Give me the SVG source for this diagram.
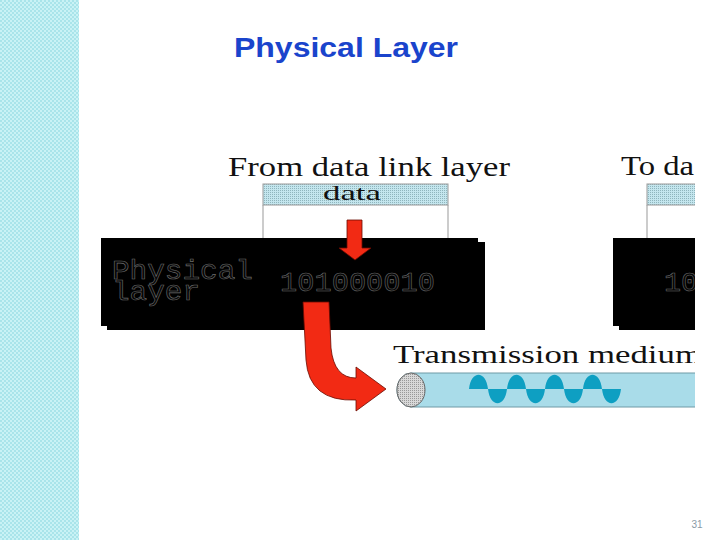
<svg xmlns="http://www.w3.org/2000/svg" width="720" height="540" viewBox="0 0 720 540">
  <style>
    .serif { font-family: "Liberation Serif", "Times New Roman", serif; fill: #111; }
    .mono { font-family: "Liberation Mono", "Courier New", monospace; fill: #060606; stroke: #6a6a6a; stroke-width: 0.6; }
    .black { fill: #000; }
    .hatch { fill: url(#hatch); stroke: #999; stroke-width: 1; }
    .red { fill: #f22a14; stroke: #6a0a00; stroke-width: 0.8; }
  </style>
  <defs>
    <pattern id="band" width="4" height="4" patternUnits="userSpaceOnUse">
      <rect width="4" height="4" fill="#c9f2f5"/>
      <rect width="2" height="2" fill="#a9e4ea"/>
      <rect x="2" y="2" width="2" height="2" fill="#a9e4ea"/>
    </pattern>
    <pattern id="hatch" width="2" height="2" patternUnits="userSpaceOnUse">
      <rect width="2" height="2" fill="#c4e6ee"/>
      <rect width="1" height="1" fill="#8fb5bd"/>
    </pattern>
    <pattern id="endcap" width="2" height="2" patternUnits="userSpaceOnUse">
      <rect width="2" height="2" fill="#d8d8d8"/>
      <rect width="1" height="1" fill="#999"/>
    </pattern>
    <clipPath id="clip">
      <rect x="0" y="0" width="695" height="540"/>
    </clipPath>
  </defs>

  <rect width="720" height="540" fill="#fff"/>
  <rect id="band-left" x="0" y="0" width="79" height="540" fill="url(#band)"/>

  <text id="title" x="234" y="57" font-family="Liberation Sans, Arial, sans-serif" font-weight="bold" font-size="28" fill="#1a44cc" textLength="224" lengthAdjust="spacingAndGlyphs">Physical Layer</text>

  <g clip-path="url(#clip)">
    <g id="from-dll">
      <text class="serif" x="228" y="176" font-size="27" textLength="282" lengthAdjust="spacingAndGlyphs">From data link layer</text>
      <rect class="hatch" x="263" y="184" width="185" height="21"/>
      <text class="serif" x="323" y="200" font-size="22" fill="#123" textLength="58" lengthAdjust="spacingAndGlyphs">data</text>
      <line x1="263" y1="205" x2="263" y2="238" stroke="#999" stroke-width="1"/>
      <line x1="448" y1="205" x2="448" y2="238" stroke="#999" stroke-width="1"/>
    </g>

    <g id="physical-layer-sender">
      <rect class="black" x="107" y="242" width="378" height="88"/>
      <rect class="black" x="101" y="238" width="377" height="88"/>
      <text class="mono" x="112" y="279" font-size="27" textLength="141" lengthAdjust="spacingAndGlyphs">Physical</text>
      <text class="mono" x="112" y="300" font-size="27" textLength="88" lengthAdjust="spacingAndGlyphs">layer</text>
      <text class="mono" x="280" y="291" font-size="28.5" textLength="155" lengthAdjust="spacingAndGlyphs">101000010</text>
    </g>

    <g id="to-dll">
      <text class="serif" x="621" y="175" font-size="27" textLength="73" lengthAdjust="spacingAndGlyphs">To da</text>
      <rect class="hatch" x="647" y="184" width="60" height="21"/>
      <line x1="647" y1="205" x2="647" y2="238" stroke="#999" stroke-width="1"/>
    </g>

    <g id="physical-layer-receiver">
      <rect class="black" x="619" y="242" width="90" height="88"/>
      <rect class="black" x="613" y="238" width="90" height="88"/>
      <text class="mono" x="664" y="291" font-size="28.5">10</text>
    </g>

    <g id="transmission-medium">
      <text class="serif" x="393" y="363" font-size="26" textLength="309" lengthAdjust="spacingAndGlyphs">Transmission medium</text>
      <rect x="397" y="373" width="315" height="34" rx="14" ry="17" fill="#a9dce9" stroke="#6e9aa6" stroke-width="1"/>
      <ellipse cx="411" cy="390" rx="14" ry="17" fill="url(#endcap)" stroke="#666" stroke-width="1"/>
      <path fill="#0e9fc2" d="M469,389 C471,370 486,370 488,389 Z M488,389 C490,408 505,408 507,389 Z M507,389 C509,370 524,370 526,389 Z M526,389 C528,408 543,408 545,389 Z M545,389 C547,370 562,370 564,389 Z M564,389 C566,408 581,408 583,389 Z M583,389 C585,370 600,370 602,389 Z M602,389 C604,408 619,408 621,389 Z"/>
    </g>
  </g>

  <g id="connectors">
    <path class="red" d="M347,220 L362,220 L362,248 L371,248 L355,260 L339,248 L347,248 Z"/>
    <path class="red" d="M303,302 L329,302 L331,348 Q334,378 356,378 L356,367 L386,389 L356,411 L356,400 Q309,402 306,360 Z"/>
  </g>

  <text id="page-number" x="697" y="528" font-family="Liberation Sans, Arial, sans-serif" font-size="10" fill="#8a9aa6" text-anchor="middle">31</text>
</svg>
